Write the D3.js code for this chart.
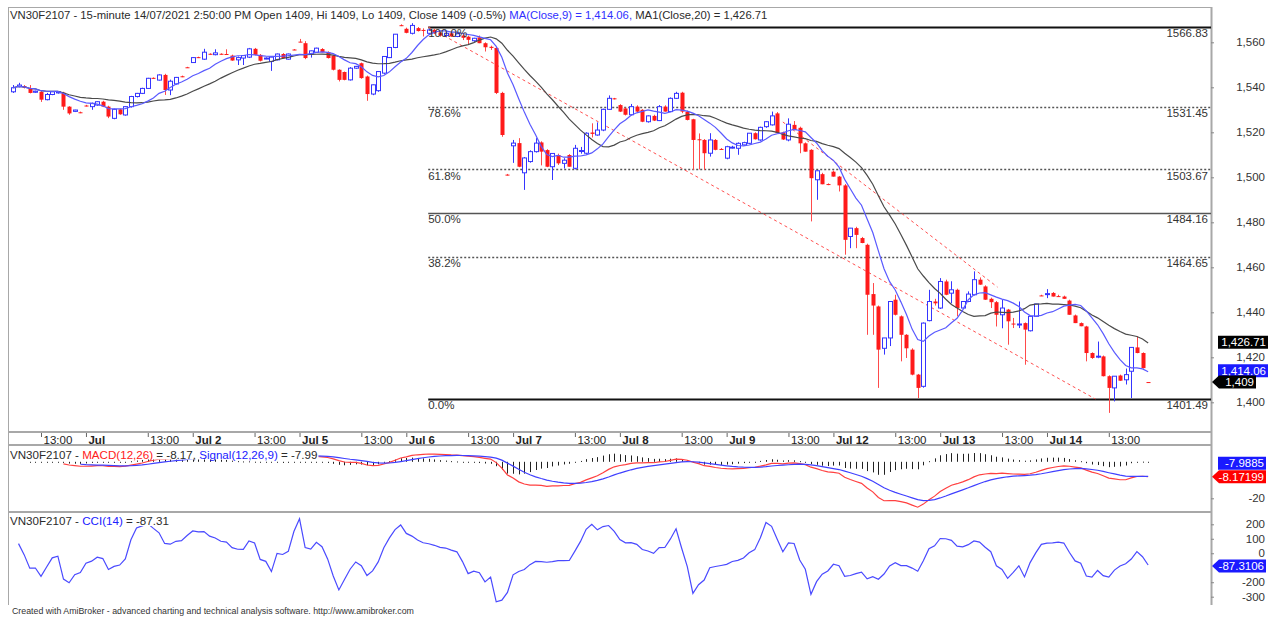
<!DOCTYPE html>
<html>
<head>
<meta charset="utf-8">
<script src="https://cdn.jsdelivr.net/npm/d3@7"></script>
<style>
  body { margin: 0; background: #fff; }
  svg { display: block; font-family: "Liberation Sans", Arial, sans-serif; }
</style>
</head>
<body>
<svg id="chart" width="1281" height="617"></svg>
<script>
// 15-minute bars, one array per trading day: [open, high, low, close]
const jun30 = [
  [1538,1541,1537.5,1539.8],[1540.3,1542,1540,1541],[1540.5,1541,1539.5,1539.8],[1539.5,1541,1537.3,1537.5],
  [1537.8,1538.5,1537.5,1538.3],[1538,1538.3,1533.5,1534.5],[1534.5,1537.5,1534.2,1536.8],[1536.8,1538.3,1536.5,1538],
  [1537.5,1538.3,1537.2,1538],[1537.6,1538,1530,1531.4],[1531.4,1531.6,1527.8,1528.4],[1529.3,1530,1529,1529.9],
  [1528.9,1529.2,1528.5,1528.7]
];
const jul01 = [
  [1531.9,1532.2,1531.5,1531.7],[1531.4,1533.2,1530,1532.9],[1532.1,1533.8,1531.8,1533.6],[1533.6,1534,1531.2,1531.4],
  [1531.4,1531.8,1526.3,1527],[1526.2,1530.5,1525.8,1530.2],[1530.2,1530.5,1527.8,1528],[1527.7,1531.6,1527.4,1531.4],
  [1531.4,1536.2,1531,1535.9],[1535.9,1537.5,1535.5,1537.3],[1537.3,1539.8,1537,1539.5],[1539.5,1544.2,1539.3,1544],
  [1544.2,1544.4,1543.8,1544],[1543.2,1545.8,1543,1545.5],[1545.5,1546,1536.6,1538.8],[1538.8,1543.4,1536.5,1542.7],
  [1541.5,1544.6,1541.2,1544.4],[1544.9,1545.2,1544.5,1544.7],[1548.9,1549.1,1548.6,1548.7]
];
const jul02 = [
  [1551,1553.4,1550.8,1553.2],[1553.4,1553.6,1553,1553.2],[1552.5,1557.1,1552.2,1555.6],[1554.9,1555.1,1554.5,1554.7],
  [1554.5,1556.9,1554.2,1555.3],[1554.9,1555.1,1554.5,1554.7],[1554.8,1556.9,1554.4,1554.5],[1554.1,1554.5,1551.8,1551.9],
  [1552.2,1553.7,1549.9,1553.2],[1553,1554.3,1549.9,1554.1],[1553.4,1557.5,1553,1557.1],[1557.1,1557.5,1554.2,1554.4],
  [1554.4,1554.8,1551.5,1551.8],[1552.6,1553.3,1552.5,1553],[1551.5,1553.5,1547.3,1553.4],[1552.2,1555,1552,1554.8],
  [1554.8,1555.2,1552.9,1553],[1552.5,1555,1552.3,1554.8],[1556.8,1557,1556.5,1556.6]
];
const jul05 = [
  [1560.3,1561.5,1560,1560.1],[1559.6,1560.5,1552.5,1553],[1554.8,1556.3,1553.2,1556.2],[1555.6,1557.6,1555.3,1557.4],
  [1557,1557.4,1555.5,1555.6],[1555.6,1556,1552.8,1553],[1554.1,1554.5,1547.5,1547.8],[1547.8,1548,1542.6,1543.3],
  [1546.8,1547,1543.1,1543.3],[1543.3,1549,1543,1548.5],[1548.5,1549.5,1548.2,1549.3],[1550.7,1551,1543.8,1544.1],
  [1544.8,1545.2,1534,1537],[1537,1541.2,1536.5,1541.1],[1538.5,1547.2,1538,1547],[1546.3,1553.8,1545.8,1553.7],
  [1553.2,1557.8,1553,1557.7],[1557.7,1563.7,1557.4,1563.6],[1567.6,1568,1567.2,1567.4]
];
const jul06 = [
  [1566,1566.5,1564,1564.2],[1564,1568.5,1563.5,1567.5],[1566.3,1566.8,1564.8,1565],[1565.5,1566.2,1562.6,1565.2],
  [1564,1566,1563.5,1565.5],[1565.5,1566,1563.7,1564],[1564.2,1564.8,1562.5,1563],[1563,1564.5,1562.4,1564],
  [1564,1564.4,1562.4,1562.6],[1562.6,1564,1562.3,1563.8],[1563,1563.5,1561,1562],[1562.5,1563,1558.9,1561.1],
  [1560.7,1562,1560.2,1561.8],[1562.2,1563,1559.6,1559.6],[1559.6,1560,1555.9,1557.8],[1558,1558.5,1556.6,1557.5],
  [1557.5,1558,1537,1537.5],[1537.5,1538,1518,1518.8],[1501.2,1501.5,1500.8,1501]
];
const jul07 = [
  [1514,1516.6,1506.4,1515.2],[1515.2,1517.4,1504.5,1504.7],[1502,1509,1494.4,1508.6],[1507,1512,1506.5,1511.4],
  [1511.4,1517.4,1511,1515.2],[1515.5,1516,1505.3,1511.4],[1512.1,1512.5,1504.5,1504.7],[1504.7,1510.6,1498.8,1510.6],
  [1509.9,1510.5,1505.5,1506.2],[1506.2,1508.5,1503.9,1507.6],[1509.9,1510.3,1504.7,1504.7],[1504,1514.4,1503.5,1512.9],
  [1511.5,1513.5,1510.5,1511.9],[1510.7,1520,1510.3,1519.6],[1519.9,1524,1517.7,1519.3],[1518.8,1524.4,1518.5,1521],
  [1521,1530.5,1520.5,1530.2],[1530.2,1536.4,1530,1535.1],[1535.1,1535.3,1534.6,1534.8]
];
const jul08 = [
  [1532.1,1532.5,1529,1529.2],[1530.6,1531,1527.5,1527.8],[1527.8,1532.6,1527.5,1531.4],[1531.4,1532,1529,1529.2],
  [1530,1530.3,1524.5,1524.7],[1524.7,1527.5,1524.3,1527.3],[1527.3,1527.8,1525,1525.2],[1525.2,1532.1,1525,1531.4],
  [1531.4,1532,1529.2,1529.2],[1529.2,1535.5,1529,1535.1],[1535.1,1538,1534.8,1537.3],[1537.6,1538,1528.5,1529.2],
  [1529.2,1529.6,1525.3,1525.5],[1525.8,1526,1503.3,1516.6],[1516.9,1519.5,1503.5,1516.5],[1516.6,1517,1503.3,1510.7],
  [1510.7,1519.6,1509.2,1516.6],[1516.6,1517,1512,1512.2],[1512.6,1513,1512.2,1512.5]
];
const jul09 = [
  [1508.5,1514,1508,1513.6],[1513.2,1514,1512.8,1513.4],[1512.9,1515.5,1510,1515.1],[1514.4,1515.8,1514,1515.4],
  [1515.1,1519.6,1514.8,1519.6],[1519.6,1520,1516.8,1516.9],[1516.6,1522.5,1516.2,1522.2],[1522.5,1525,1522,1524.7],
  [1523.3,1529.2,1523,1527.3],[1528.4,1529,1519.5,1519.6],[1520,1520.3,1516.6,1516.8],[1516.6,1526.2,1516,1523.6],
  [1523.3,1525,1521,1521],[1522,1522.5,1510.7,1515.1],[1515.1,1515.5,1511.4,1511.4],[1512.2,1512.5,1480.4,1499.6],
  [1498.9,1503,1490,1502.9],[1501.4,1502,1496.9,1496.9],[1497,1497.3,1496.5,1496.9]
];
const jul12 = [
  [1502.5,1503,1500.3,1500.3],[1500.3,1500.6,1493.7,1496.4],[1496.4,1497,1465.6,1472.2],[1473.7,1477.5,1468.5,1477.4],
  [1477.4,1478,1468.5,1474.4],[1473,1473.5,1470.7,1470.8],[1470,1470.5,1430,1447.8],[1448.1,1453,1430,1443],
  [1442.6,1443,1406.4,1423.4],[1424,1428.6,1421.2,1428.6],[1428.6,1445,1425,1444.8],[1445.6,1447.8,1438.6,1438.9],
  [1438.2,1438.6,1418.2,1430],[1430,1430.3,1419.7,1424],[1423.4,1424,1412,1412.3],[1412.3,1412.6,1401.9,1406.4],
  [1407.1,1435.5,1406.5,1435.2],[1436.3,1450,1436,1444.8],[1444.8,1446,1443,1444]
];
const jul13 = [
  [1441.9,1455.2,1441.5,1453.7],[1453.7,1454.5,1447.6,1447.8],[1448.5,1453.8,1444,1450],[1450,1450.5,1438.2,1441.9],
  [1441.9,1445,1441.5,1444.8],[1444.8,1449.3,1444.5,1448.1],[1447.8,1458.2,1447.5,1454.5],[1454.5,1455.5,1452.2,1452.3],
  [1451.5,1452,1445.5,1445.6],[1446,1446.5,1441.9,1444.5],[1444.5,1445,1433.7,1438.9],[1438.9,1445.6,1432.9,1441.9],
  [1441.2,1441.5,1425.6,1436],[1435,1437.5,1433,1434.8],[1434.5,1444.8,1433,1434.8],[1435.2,1435.5,1416.7,1432.3],
  [1431.8,1438.2,1431.5,1438.2],[1438.2,1443.7,1438,1443.7],[1447.5,1447.8,1447.2,1447.3]
];
const jul14 = [
  [1448,1450.3,1446.3,1448.3],[1448.6,1449,1447,1447],[1447.2,1447.8,1446.8,1447],[1447,1447.4,1446,1446],
  [1445.2,1445.6,1438.9,1438.9],[1438.6,1439,1435.2,1435.2],[1435.2,1435.5,1433.8,1433.8],[1433.7,1434,1418.2,1421.9],
  [1421.9,1422.2,1419.3,1419.7],[1420.2,1427,1419.6,1420.5],[1420.4,1420.8,1411.5,1411.6],[1411.6,1412,1395.3,1406.4],
  [1406.4,1411.6,1400.4,1411.6],[1411.9,1412.3,1409.5,1409.6],[1410,1415,1407.9,1412.3],[1413.8,1424.5,1401.9,1424.4],
  [1424.4,1429.3,1421.8,1421.9],[1421.9,1422.2,1415,1415.2],[1409,1409,1409,1409]
];

// time axis (bar index of each label)
const timeTickIdx  = [5, 13, 24, 32, 43, 51, 62, 70, 81, 89, 100, 108, 119, 127, 138, 146, 157, 165, 176, 184, 195];
const timeTickText = ["13:00","Jul","13:00","Jul 2","13:00","Jul 5","13:00","Jul 6","13:00","Jul 7","13:00","Jul 8",
                      "13:00","Jul 9","13:00","Jul 12","13:00","Jul 13","13:00","Jul 14","13:00"];

const priceTicks = [1400, 1420, 1440, 1460, 1480, 1500, 1520, 1540, 1560];
const macdTicks = [-20];
const cciTicks = [200, 100, 0, -200, -300];

// fibonacci retracement drawn on the chart
const fibHigh = 1566.83, fibLow = 1401.49;
const fibLevels = [1, 0.786, 0.618, 0.5, 0.382, 0];
const fibNames  = ["100.0%", "78.6%", "61.8%", "50.0%", "38.2%", "0.0%"];
const fibDotted = [false, true, true, false, true, false];
const fibFromIdx = 73.9, fibToIdx = 192.6;
// hand-drawn trend line (bar index, price)
const trendLine = [[137, 1524.6], [175.2, 1451.2]];

// last values shown in titles / tags
const lastMa9 = 1414.06, lastMa20 = 1426.71, lastClose = 1409;
const lastMacd = -8.17199, lastSignal = -7.9885, lastCci = -87.3106;

const bars = [jun30, jul01, jul02, jul05, jul06, jul07, jul08, jul09, jul12, jul13, jul14].flat();
const closes = bars.map(b => b[3]);

// ---- indicators ----
function sma(arr, n) {
  return arr.map((v, i) => d3.mean(arr.slice(Math.max(0, i - n + 1), i + 1)));
}
function ema(arr, n) {
  const k = 2 / (n + 1);
  const out = [];
  arr.forEach((v, i) => out.push(i === 0 ? v : v * k + out[i - 1] * (1 - k)));
  return out;
}
const ma9 = sma(closes, 9);
const ma20 = sma(closes, 20);
const ema12 = ema(closes, 12), ema26 = ema(closes, 26);
const macd = closes.map((c, i) => ema12[i] - ema26[i]);
const signal = ema(macd, 9);
const hist = macd.map((m, i) => m - signal[i]);
const tp = bars.map(b => (b[1] + b[2] + b[3]) / 3);
const cci = tp.map((t, i) => {
  const win = tp.slice(Math.max(0, i - 13), i + 1);
  const m = d3.mean(win);
  const md = d3.mean(win, v => Math.abs(v - m));
  return md > 0 ? (t - m) / (0.015 * md) : null;
});

// ---- layout ----
const svg = d3.select("#chart");
const left = 8, right = 1211;
const mainTop = 7, mainBottom = 432, macdTop = 445, cciTop = 512, bottom = 605;
const FONT = "Liberation Sans, Arial, sans-serif";

const x = d3.scaleLinear().domain([0, bars.length - 1]).range([12.9, 12.9 + 5.62 * (bars.length - 1)]);
const y = d3.scaleLinear().domain([1400, 1560]).range([402.3, 42.3]);
const yM = d3.scaleLinear().domain([0, -20]).range([461.8, 498.3]);
const yC = d3.scaleLinear().domain([200, -300]).range([524.3, 596.7]);

const BLUE = "#3535ff", RED = "#ff1a1a", GREY = "#a8a8a8", TXT = "#2b2b2b";

const defs = svg.append("defs");
[["clipMain", mainTop, mainBottom], ["clipMacd", macdTop + 1, cciTop], ["clipCci", cciTop + 1, bottom]].forEach(([id, t, b]) => {
  defs.append("clipPath").attr("id", id).append("rect")
    .attr("x", left).attr("y", t).attr("width", right - left).attr("height", b - t);
});

// frame
svg.append("line").attr("x1", left + 0.5).attr("x2", left + 0.5).attr("y1", mainTop).attr("y2", bottom)
  .attr("stroke", GREY);
svg.append("line").attr("x1", left).attr("x2", right).attr("y1", mainTop + 0.5).attr("y2", mainTop + 0.5)
  .attr("stroke", GREY);
[mainBottom, macdTop, cciTop].forEach(yy => {
  svg.append("line").attr("x1", left).attr("x2", right).attr("y1", yy).attr("y2", yy)
    .attr("stroke", GREY).attr("stroke-width", 2);
});
svg.append("line").attr("x1", right + 0.5).attr("x2", right + 0.5).attr("y1", mainTop).attr("y2", bottom)
  .attr("stroke", GREY).attr("stroke-width", 2);

// ---- main panel ----
const main = svg.append("g").attr("clip-path", "url(#clipMain)");

// fib levels
fibLevels.forEach((lv, i) => {
  const p = fibLow + lv * (fibHigh - fibLow);
  const yy = Math.round(y(p)) + 0.5;
  const thick = (lv === 1 || lv === 0);
  main.append("line")
    .attr("x1", x(fibFromIdx)).attr("x2", right).attr("y1", yy).attr("y2", yy)
    .attr("stroke", thick ? "#111" : "#555")
    .attr("stroke-width", thick ? 2 : (fibDotted[i] ? 1.3 : 1.5))
    .attr("stroke-dasharray", fibDotted[i] ? "2,2" : null);
});

// fib diagonal + trend line (red dashed)
main.append("line")
  .attr("x1", x(fibFromIdx)).attr("y1", y(fibHigh)).attr("x2", x(fibToIdx)).attr("y2", y(fibLow))
  .attr("stroke", "#ff5050").attr("stroke-dasharray", "3,3");
main.append("line")
  .attr("x1", x(trendLine[0][0])).attr("y1", y(trendLine[0][1]))
  .attr("x2", x(trendLine[1][0])).attr("y2", y(trendLine[1][1]))
  .attr("stroke", "#ff5050").attr("stroke-dasharray", "3,3");

// candles
bars.forEach((b, i) => {
  const [o, h, l, c] = b;
  const prev = i > 0 ? bars[i - 1][3] : o;
  const up = c > o || (c === o && c >= prev);
  const cx = Math.round(x(i));
  const col = up ? BLUE : RED;
  main.append("line")
    .attr("x1", cx + 0.5).attr("x2", cx + 0.5).attr("y1", y(h)).attr("y2", y(l))
    .attr("stroke", up ? BLUE : "#ff4a4a");
  const top = y(Math.max(o, c)), hgt = Math.max(1, y(Math.min(o, c)) - top);
  if (up) {
    main.append("rect").attr("x", cx - 1.5).attr("y", top).attr("width", 4).attr("height", hgt)
      .attr("fill", "#fff").attr("stroke", col);
  } else {
    main.append("rect").attr("x", cx - 1.5).attr("y", top).attr("width", 4).attr("height", hgt)
      .attr("fill", col);
  }
});

// moving averages
const lineMain = d3.line().x((d, i) => x(i)).y(d => y(d));
main.append("path").attr("d", lineMain(ma20)).attr("fill", "none").attr("stroke", "#4a4a4a").attr("stroke-width", 1.2);
main.append("path").attr("d", lineMain(ma9)).attr("fill", "none").attr("stroke", "#5a5aff").attr("stroke-width", 1.2);

// fib labels
fibLevels.forEach((lv, i) => {
  const p = fibLow + lv * (fibHigh - fibLow);
  svg.append("text").attr("x", x(fibFromIdx)).attr("y", y(p) + 10.5)
    .attr("font-size", 11.5).attr("fill", "#333").text(fibNames[i]);
  svg.append("text").attr("x", right - 3).attr("y", y(p) + 10.5).attr("text-anchor", "end")
    .attr("font-size", 11.5).attr("fill", "#333").text(d3.format(".2f")(p));
});

// header
const header = svg.append("text").attr("x", 10).attr("y", 19).attr("font-size", 11.3).attr("fill", TXT);
header.append("tspan").text("VN30F2107 - 15-minute 14/07/2021 2:50:00 PM Open 1409, Hi 1409, Lo 1409, Close 1409 (-0.5%) ");
header.append("tspan").attr("fill", "#3030ff").text(`MA(Close,9) = ${d3.format(",.2f")(lastMa9)}, `);
header.append("tspan").text(`MA1(Close,20) = ${d3.format(",.2f")(lastMa20)}`);

// price axis
function styleRightAxis(g) {
  g.select(".domain").remove();
  g.selectAll("line").attr("stroke", "#888");
  g.selectAll("text").attr("x", 54).attr("text-anchor", "end").attr("font-size", 11.5)
    .attr("font-family", FONT).attr("fill", "#333");
}
const pAxis = svg.append("g").attr("transform", `translate(${right},0)`)
  .call(d3.axisRight(y).tickValues(priceTicks).tickSize(3).tickFormat(d3.format(",")));
styleRightAxis(pAxis);

// time axis
const tAxis = svg.append("g").attr("transform", `translate(0,${mainBottom + 1})`)
  .call(d3.axisBottom(x).tickValues(timeTickIdx).tickSize(4).tickFormat((d, i) => timeTickText[i]));
tAxis.select(".domain").remove();
tAxis.selectAll("line").attr("stroke", "#666");
tAxis.selectAll("text").attr("text-anchor", "start").attr("x", 2).attr("y", 3).attr("dy", "0.71em")
  .attr("font-size", 11.5).attr("font-family", FONT).attr("fill", "#222")
  .attr("font-weight", (d, i) => timeTickText[i].startsWith("Jul") ? "bold" : "normal");

// value tags on the right
function tag(yy, label, bg, arrow, x0, x1) {
  const g = svg.append("g");
  const hh = 6.5;
  const pts = arrow
    ? [[right + 1, yy], [x0, yy - hh], [x1, yy - hh], [x1, yy + hh], [x0, yy + hh]]
    : [[x0, yy - hh], [x1, yy - hh], [x1, yy + hh], [x0, yy + hh]];
  g.append("polygon").attr("points", pts.map(p => p.join(",")).join(" ")).attr("fill", bg);
  g.append("text").attr("x", x1 - 2).attr("y", yy + 4).attr("text-anchor", "end")
    .attr("font-size", 11.5).attr("fill", "#fff").text(label);
}
tag(y(lastMa20), d3.format(",.2f")(lastMa20), "#000", false, 1218, 1268);
tag(y(lastMa9), d3.format(",.2f")(lastMa9), "#1a1aff", false, 1218, 1268);
tag(y(lastClose), d3.format(",")(lastClose), "#000", true, 1219, 1256);

// ---- MACD panel ----
const macdG = svg.append("g").attr("clip-path", "url(#clipMacd)");
hist.forEach((hv, i) => {
  if (i < 3) return;
  const cx = Math.round(x(i)) + 0.5;
  const y0 = yM(0), y1 = yM(hv);
  macdG.append("line").attr("x1", cx).attr("x2", cx)
    .attr("y1", Math.min(y0, y1)).attr("y2", Math.max(Math.max(y0, y1), Math.min(y0, y1) + 1))
    .attr("stroke", "#222");
});
const lineM = d3.line().defined(d => d.i >= d.start).x(d => x(d.i)).y(d => yM(d.v));
macdG.append("path").attr("d", lineM(macd.map((v, i) => ({ v, i, start: 9 }))))
  .attr("fill", "none").attr("stroke", "#ff4040").attr("stroke-width", 1.2);
macdG.append("path").attr("d", lineM(signal.map((v, i) => ({ v, i, start: 12 }))))
  .attr("fill", "none").attr("stroke", "#4040ff").attr("stroke-width", 1.2);

function panelTitle(yy, parts) {
  const t = svg.append("text").attr("x", 10).attr("y", yy).attr("font-size", 11.6).attr("fill", TXT);
  parts.forEach(([s, c]) => t.append("tspan").attr("fill", c || TXT).text(s));
  const bb = t.node().getBBox();
  svg.insert("rect", () => t.node()).attr("x", bb.x - 1).attr("y", bb.y).attr("width", bb.width + 2)
    .attr("height", bb.height - 1).attr("fill", "#fff");
}
panelTitle(macdTop + 13.5, [["VN30F2107 - "], ["MACD(12,26)", "#ff2020"], [" = -8.17, "], ["Signal(12,26,9)", "#2020ff"], [" = -7.99"]]);

const mAxis = svg.append("g").attr("transform", `translate(${right},0)`)
  .call(d3.axisRight(yM).tickValues(macdTicks).tickSize(3).tickFormat(d => String(d)));
styleRightAxis(mAxis);

const macdTagY = yM(lastMacd);
tag(Math.min(yM(lastSignal), macdTagY - 13.5), String(lastSignal), "#1a1aff", false, 1218, 1266);
tag(macdTagY, String(lastMacd), "#ff0000", true, 1219, 1266);

// ---- CCI panel ----
const cciG = svg.append("g").attr("clip-path", "url(#clipCci)");
const lineC = d3.line().defined(d => d !== null).x((d, i) => x(i)).y(d => yC(d));
cciG.append("path").attr("d", lineC(cci)).attr("fill", "none").attr("stroke", "#4a4aff").attr("stroke-width", 1.2);
panelTitle(cciTop + 13, [["VN30F2107 - "], ["CCI(14)", "#2020ff"], [" = -87.31"]]);

const cAxis = svg.append("g").attr("transform", `translate(${right},0)`)
  .call(d3.axisRight(yC).tickValues(cciTicks).tickSize(3).tickFormat(d => String(d)));
styleRightAxis(cAxis);
tag(yC(lastCci), String(lastCci), "#1a1aff", true, 1219, 1266);

// footer
svg.append("text").attr("x", 12).attr("y", 614).attr("font-size", 8.8).attr("fill", "#333")
  .text("Created with AmiBroker - advanced charting and technical analysis software. http://www.amibroker.com");
</script>
</body>
</html>
